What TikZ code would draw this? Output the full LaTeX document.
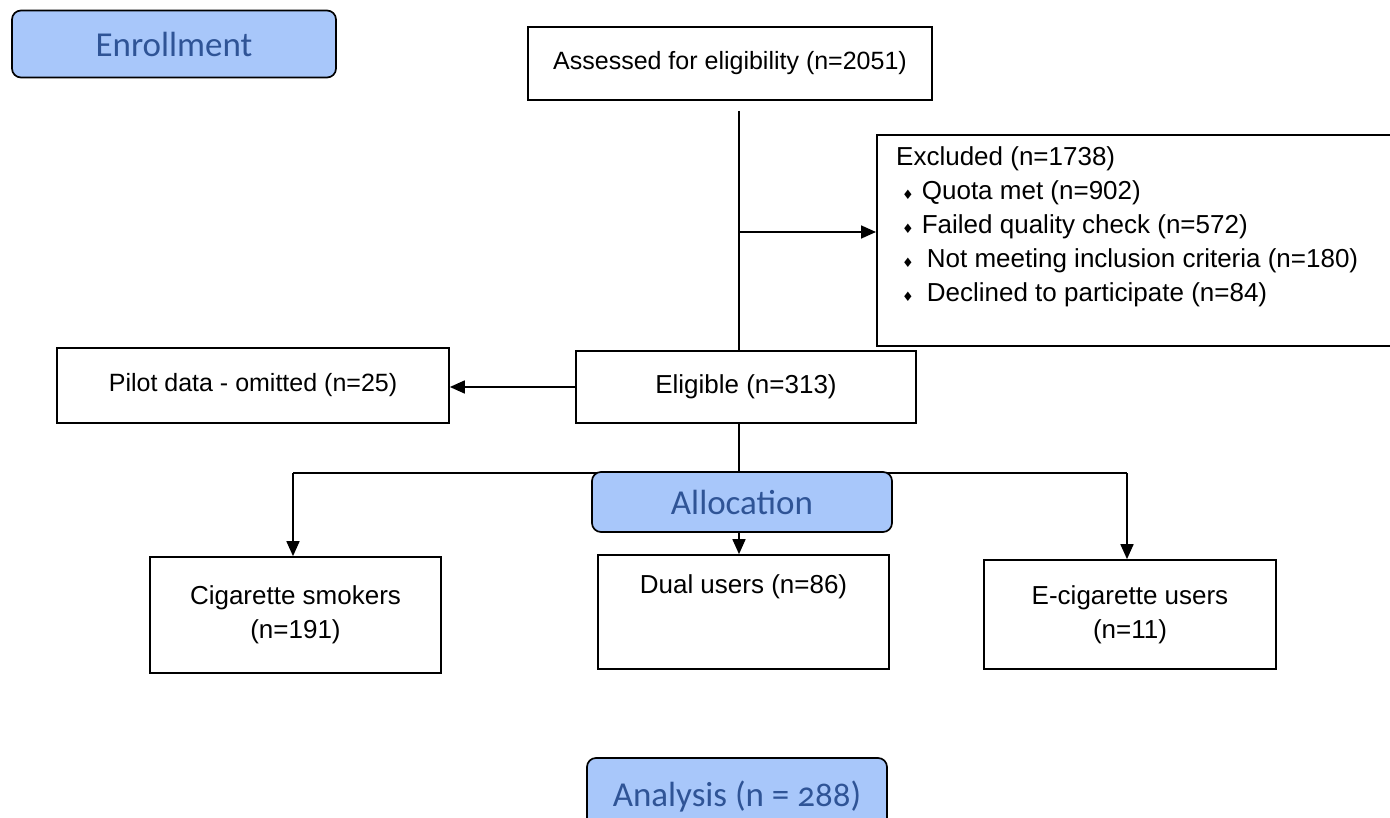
\documentclass[tikz,border=0pt]{standalone}
\usepackage{fontspec}
\setmainfont{Liberation Sans}
\newfontfamily\calib{Carlito}
\newfontfamily\calibos{Carlito}[Numbers=OldStyle]
\newfontfamily\dejavu{DejaVu Sans}
\usetikzlibrary{arrows.meta,backgrounds}
\definecolor{phasefill}{RGB}{168,199,250}
\definecolor{phasetext}{RGB}{47,84,150}
\newcommand{\bul}{{\dejavu\fontsize{13}{13}\selectfont ♦}}
\begin{document}
\begin{tikzpicture}[x=1pt,y=-1pt,
  box/.style={draw, line width=1.7pt, fill=white, inner sep=0pt, align=center,
    font=\fontsize{26}{34}\selectfont},
  smallbox/.style={box, font=\fontsize{25}{34}\selectfont},
  txt/.style={inner sep=0pt, align=left, font=\fontsize{26}{34}\selectfont},
  phase/.style={draw, line width=1.7pt, rounded corners=9pt, fill=phasefill,
    text=phasetext, inner sep=0pt, font=\calib\fontsize{35}{40}\selectfont},
  conn/.style={line width=1.7pt},
  arr/.style={conn, -{Triangle[length=15pt,width=13pt]}}]
\clip (0,0) rectangle (1390,818);
\useasboundingbox (0,0) rectangle (1390,818);

% phase boxes
\node[phase, minimum width=324pt, minimum height=67pt] (enroll) at (174,44) {Enrollment};
\node[phase, minimum width=300pt, minimum height=60pt] (alloc) at (742,502) {Allocation};
\node[phase, minimum width=300pt, minimum height=78pt, font=\calibos\fontsize{35}{40}\selectfont] (analysis) at (737,797) {Analysis (n = 288)};

% boxes
\node[smallbox, minimum width=404pt, minimum height=73pt] (assess) at (730,63.5) {Assessed for eligibility (n=2051)};
\node[box, minimum width=520pt, minimum height=211pt, anchor=north west] (excl) at (876,134) {};
\node[txt, anchor=north west] (excltxt) at (896,146) {Excluded (n=1738)\\
\hspace*{6pt}\bul\hspace{8pt}Quota met (n=902)\\
\hspace*{6pt}\bul\hspace{8pt}Failed quality check (n=572)\\
\hspace*{6pt}\bul\hspace{13pt}Not meeting inclusion criteria (n=180)\\
\hspace*{6pt}\bul\hspace{13pt}Declined to participate (n=84)};
\node[box, minimum width=340pt, minimum height=72pt] (elig) at (746,387) {Eligible (n=313)};
\node[smallbox, minimum width=392pt, minimum height=75pt] (pilot) at (253,385.5) {Pilot data - omitted (n=25)};
\node[box, minimum width=291pt, minimum height=116pt] (cig) at (295.5,615) {Cigarette smokers\\(n=191)};
\node[box, minimum width=291pt, minimum height=114pt] (dual) at (743.5,612) {};
\node[txt] (dualtxt) at (743.5,587) {Dual users (n=86)};
\node[box, minimum width=292pt, minimum height=109pt] (ecig) at (1130,614.5) {E-cigarette users\\(n=11)};

% connector anchor points
\coordinate (a1) at (739,111);
\coordinate (b1) at (739,232);
\coordinate (hl) at (293,473);
\coordinate (hr) at (1127,473);

\begin{pgfonlayer}{background}
\draw[conn] (a1) -- (a1 |- elig.north);
\draw[arr] (b1) -- (b1 -| excl.west);
\draw[arr] (elig.west) -- (elig.west -| pilot.east);
\draw[conn] (elig.south -| a1) -- (alloc.north -| a1);
\draw[conn] (hl) -- (hr);
\draw[arr] (hl) -- (hl |- cig.north);
\draw[arr] (hr) -- (hr |- ecig.north);
\draw[arr] (alloc.south -| a1) -- (dual.north -| a1);
\end{pgfonlayer}
\end{tikzpicture}
\end{document}
